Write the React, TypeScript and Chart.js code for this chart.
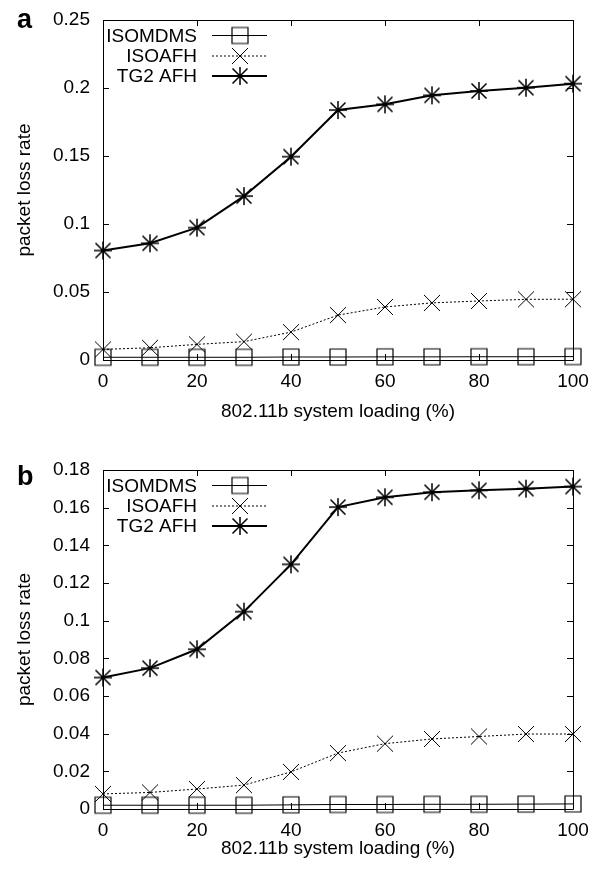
import React, { useEffect, useRef } from 'react';
import { Chart, registerables } from 'chart.js';

Chart.register(...registerables);

// ---------- data ----------
const loading = [0, 10, 20, 30, 40, 50, 60, 70, 80, 90, 100];
const seriesNames = ['ISOMDMS', 'ISOAFH', 'TG2 AFH'];
const xTicks = [0, 20, 40, 60, 80, 100];

const aIsomdms = [0.002, 0.002, 0.002, 0.002, 0.0022, 0.0022, 0.0023, 0.0023, 0.0024, 0.0024, 0.0025];
const aIsoafh = [0.0078, 0.009, 0.0115, 0.0135, 0.0205, 0.033, 0.039, 0.042, 0.0434, 0.0446, 0.0447];
const aTg2 = [0.0805, 0.0858, 0.0973, 0.1205, 0.1495, 0.1838, 0.188, 0.1946, 0.1978, 0.2002, 0.2032];
const aYTicks = [0, 0.05, 0.1, 0.15, 0.2, 0.25];

const bIsomdms = [0.002, 0.002, 0.002, 0.002, 0.0022, 0.0024, 0.0024, 0.0025, 0.0025, 0.0026, 0.0027];
const bIsoafh = [0.008, 0.0088, 0.0106, 0.0127, 0.0197, 0.0297, 0.0347, 0.0372, 0.0385, 0.0398, 0.0398];
const bTg2 = [0.0698, 0.0748, 0.0848, 0.1048, 0.1299, 0.1603, 0.1655, 0.1682, 0.1692, 0.1701, 0.1712];
const bYTicks = [0, 0.02, 0.04, 0.06, 0.08, 0.1, 0.12, 0.14, 0.16, 0.18];

const FONT = '"Liberation Sans", Arial, Helvetica, sans-serif';

// ---------- marker glyphs ----------
function makeMarker(kind: 'square' | 'x' | 'star'): HTMLCanvasElement {
  const size = 22;
  const c = document.createElement('canvas');
  c.width = size;
  c.height = size;
  const ctx = c.getContext('2d')!;
  ctx.strokeStyle = '#000';
  const m = size / 2;
  ctx.beginPath();
  if (kind === 'square') {
    ctx.lineWidth = 1.2;
    ctx.rect(m - 8, m - 8, 16, 16);
  } else if (kind === 'x') {
    ctx.lineWidth = 1;
    ctx.moveTo(m - 8, m - 8);
    ctx.lineTo(m + 8, m + 8);
    ctx.moveTo(m + 8, m - 8);
    ctx.lineTo(m - 8, m + 8);
  } else {
    ctx.lineWidth = 1.5;
    ctx.moveTo(m - 9, m);
    ctx.lineTo(m + 9, m);
    ctx.moveTo(m, m - 9);
    ctx.lineTo(m, m + 9);
    ctx.moveTo(m - 7.5, m - 7.5);
    ctx.lineTo(m + 7.5, m + 7.5);
    ctx.moveTo(m + 7.5, m - 7.5);
    ctx.lineTo(m - 7.5, m + 7.5);
  }
  ctx.stroke();
  return c;
}

interface PanelCfg {
  letter: string;
  letterBaseline: number;
  height: number;
  xTitlePadBottom: number;
  xScaleHeight: number;
  top: number;
  ymax: number;
  yTicks: number[];
  isomdms: number[];
  isoafh: number[];
  tg2: number[];
}

const panels: PanelCfg[] = [
  {
    letter: 'a', letterBaseline: 19.5, height: 450, xTitlePadBottom: 34.6, xScaleHeight: 98, top: 12,
    ymax: 0.25, yTicks: aYTicks, isomdms: aIsomdms, isoafh: aIsoafh, tg2: aTg2,
  },
  {
    letter: 'b', letterBaseline: 27, height: 404, xTitlePadBottom: 1.6, xScaleHeight: 53, top: 12,
    ymax: 0.18, yTicks: bYTicks, isomdms: bIsomdms, isoafh: bIsoafh, tg2: bTg2,
  },
];

function fmt(v: number): string {
  return String(Number(v.toFixed(3)));
}

function Panel({ cfg }: { cfg: PanelCfg }) {
  const ref = useRef<HTMLCanvasElement>(null);
  useEffect(() => {
    const markers = [makeMarker('square'), makeMarker('x'), makeMarker('star')];
    const dashes: number[][] = [[], [2, 2], []];
    const widths = [1, 1, 2];

    const framePlugin = {
      id: 'frame',
      beforeDatasetsDraw(chart: any) {
        const { ctx, chartArea } = chart;
        const { left, right, top, bottom } = chartArea;
        const xs = chart.scales.x;
        const ys = chart.scales.y;
        ctx.save();
        ctx.strokeStyle = '#000';
        ctx.lineWidth = 1;
        ctx.beginPath();
        ctx.rect(left + 0.5, top + 0.5, right - left, bottom - top);
        ctx.stroke();
        ctx.beginPath();
        const tl = 6;
        for (const v of xTicks) {
          const px = Math.round(xs.getPixelForValue(v)) + 0.5;
          ctx.moveTo(px, bottom);
          ctx.lineTo(px, bottom - tl);
          ctx.moveTo(px, top);
          ctx.lineTo(px, top + tl);
        }
        for (const v of cfg.yTicks) {
          const py = Math.round(ys.getPixelForValue(v)) + 0.5;
          ctx.moveTo(left, py);
          ctx.lineTo(left + tl, py);
          ctx.moveTo(right, py);
          ctx.lineTo(right - tl, py);
        }
        ctx.stroke();
        ctx.restore();
      },
      afterDraw(chart: any) {
        const { ctx, chartArea } = chart;
        const { left, top } = chartArea;
        ctx.save();
        // panel letter
        ctx.fillStyle = '#000';
        ctx.font = `bold 27px ${FONT}`;
        ctx.textAlign = 'left';
        ctx.textBaseline = 'alphabetic';
        ctx.fillText(cfg.letter, 9, cfg.letterBaseline);
        // legend
        const rows = [15.5, 36, 56];
        ctx.font = `19px ${FONT}`;
        ctx.textAlign = 'right';
        ctx.textBaseline = 'middle';
        seriesNames.forEach((name, i) => {
          const y = top + rows[i];
          ctx.fillStyle = '#000';
          ctx.fillText(name, left + 94, y + 1);
          ctx.beginPath();
          ctx.strokeStyle = '#000';
          ctx.lineWidth = widths[i];
          ctx.setLineDash(dashes[i]);
          ctx.moveTo(left + 109, y);
          ctx.lineTo(left + 164, y);
          ctx.stroke();
          ctx.setLineDash([]);
          const mk = markers[i];
          ctx.drawImage(mk, left + 137 - mk.width / 2, y - mk.height / 2);
        });
        ctx.restore();
      },
    };

    const mkData = (arr: number[]) => loading.map((x, i) => ({ x, y: arr[i] }));
    const series = [cfg.isomdms, cfg.isoafh, cfg.tg2];

    const chart = new Chart(ref.current!, {
      type: 'line',
      data: {
        datasets: series.map((arr, i) => ({
          label: seriesNames[i],
          data: mkData(arr),
          borderColor: '#000',
          backgroundColor: 'transparent',
          borderWidth: widths[i],
          borderDash: dashes[i],
          pointStyle: markers[i] as any,
          pointRadius: 8,
          pointHoverRadius: 8,
          tension: 0,
          fill: false,
          clip: false as any,
        })),
      },
      options: {
        responsive: false,
        animation: false,
        events: [],
        layout: { padding: { top: cfg.top, right: 17, left: 0, bottom: 0 } },
        plugins: {
          legend: { display: false },
          tooltip: { enabled: false },
          title: { display: false },
        },
        scales: {
          x: {
            type: 'linear',
            min: 0,
            max: 100,
            grid: { display: false, drawTicks: false },
            border: { display: false },
            afterBuildTicks: (s: any) => {
              s.ticks = xTicks.map((v) => ({ value: v }));
            },
            afterFit: (s: any) => {
              s.height = cfg.xScaleHeight;
              s.paddingLeft = 0;
              s.paddingRight = 17;
            },
            ticks: {
              color: '#000',
              font: { size: 19, family: FONT },
              padding: 10,
              maxRotation: 0,
              autoSkip: false,
              callback: (v: any) => String(v),
            },
            title: {
              display: true,
              text: '802.11b system loading (%)',
              color: '#000',
              font: { size: 19, family: FONT },
              padding: { top: 0, bottom: cfg.xTitlePadBottom },
            },
          },
          y: {
            type: 'linear',
            min: 0,
            max: cfg.ymax,
            grid: { display: false, drawTicks: false },
            border: { display: false },
            afterBuildTicks: (s: any) => {
              s.ticks = cfg.yTicks.map((v) => ({ value: v }));
            },
            afterFit: (s: any) => {
              s.width = 95;
              s.paddingTop = cfg.top;
              s.paddingBottom = 0;
            },
            ticks: {
              color: '#000',
              font: { size: 19, family: FONT },
              padding: 13,
              autoSkip: false,
              callback: (v: any) => fmt(Number(v)),
            },
            title: {
              display: true,
              text: 'packet loss rate',
              color: '#000',
              font: { size: 19, family: FONT },
              padding: { top: 5.6, bottom: 0 },
            },
          },
        },
      },
      plugins: [framePlugin],
    });
    return () => chart.destroy();
  }, [cfg]);
  return <canvas ref={ref} width={582} height={cfg.height} style={{ display: 'block' }} />;
}

export default function App() {
  return (
    <div style={{ width: 582 }}>
      {panels.map((p) => (
        <Panel key={p.letter} cfg={p} />
      ))}
    </div>
  );
}
